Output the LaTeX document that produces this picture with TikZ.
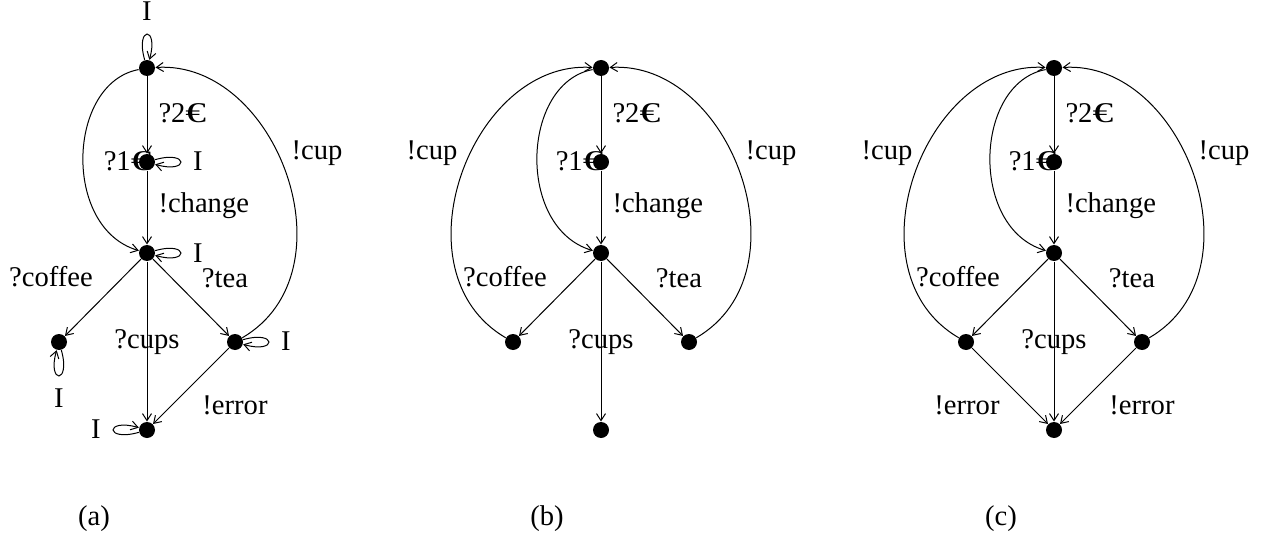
\documentclass[tikz,border=0pt]{standalone}
\usepackage{fontspec}
\setmainfont{Liberation Serif}
\usepackage{graphicx}
\usetikzlibrary{arrows.meta}

\newcommand{\eur}{\scalebox{1.45}[1]{€}}

\tikzset{
  st/.style={circle, fill=black, inner sep=0pt, minimum size=8pt},
  lbl/.style={inner sep=0pt, text height=0.75em, text depth=0.05em},
  tr/.style={-{Straight Barb[length=3.5pt,width=4.5pt]}},
}

\begin{document}
\begin{tikzpicture}[x=0.5pt, y=0.5pt, line width=0.5pt, font=\fontsize{14.3}{17}\selectfont]
    \useasboundingbox (0,0) rectangle (1269,-535);

    % (a)
    \begin{scope}[shift={(147,0)}]
    \node[st] (a0) at (0,-68) {};
    \node[st] (a1) at (0,-162) {};
    \node[st] (a2) at (0,-253) {};
    \node[st] (a3) at (-88,-342) {};
    \node[st] (a4) at (88,-342) {};
    \node[st] (a5) at (0,-430) {};
    \draw[tr] (a0) -- (a1);
    \draw[tr] (a1) -- (a2);
    \draw[tr] (a0) .. controls +(-80,-15) and +(-85,25) .. (a2);
    \draw[tr] (a2) -- (a3);
    \draw[tr] (a2) -- (a4);
    \draw[tr] (a2) -- (a5);
    \draw[tr] (a4) -- (a5);
    \draw[tr] (a4) .. controls +(120,70) and +(130,8) .. (a0);
    % self loops
    \draw[tr] (a0) .. controls +(106:44) and +(74:44) .. (a0);
    \draw[tr] (a1) .. controls +(16:44) and +(-16:44) .. (a1);
    \draw[tr] (a2) .. controls +(16:44) and +(-16:44) .. (a2);
    \draw[tr] (a3) .. controls +(-74:44) and +(-106:44) .. (a3);
    \draw[tr] (a4) .. controls +(16:44) and +(-16:44) .. (a4);
    \draw[tr] (a5) .. controls +(196:44) and +(164:44) .. (a5);
    \node[lbl] (la0) at (0,-14) {I};
    \node[lbl] (la1) at (51,-163) {I};
    \node[lbl] (la2) at (51,-255) {I};
    \node[lbl] (la3) at (-88,-400) {I};
    \node[lbl] (la4) at (139,-343) {I};
    \node[lbl] (la5) at (-51,-431) {I};
    \node[lbl, anchor=west] (ta1) at (11,-116) {?2\eur};
    \node[lbl, anchor=east] (ta2) at (5,-163) {?1\eur};
    \node[lbl, anchor=west] (ta3) at (11,-206) {!change};
    \node[lbl] (ta4) at (-96,-279) {?coffee};
    \node[lbl] (ta5) at (78,-280) {?tea};
    \node[lbl] (ta6) at (0,-341) {?cups};
    \node[lbl] (ta7) at (88,-407) {!error};
    \node[lbl] (ta8) at (170,-153) {!cup};
    \node[lbl] (capa) at (-53,-518) {(a)};
    \end{scope}

    % (b)
    \begin{scope}[shift={(601,0)}]
    \node[st] (b0) at (0,-68) {};
    \node[st] (b1) at (0,-162) {};
    \node[st] (b2) at (0,-253) {};
    \node[st] (b3) at (-88,-342) {};
    \node[st] (b4) at (88,-342) {};
    \node[st] (b5) at (0,-430) {};
    \draw[tr] (b0) -- (b1);
    \draw[tr] (b1) -- (b2);
    \draw[tr] (b0) .. controls +(-80,-15) and +(-85,25) .. (b2);
    \draw[tr] (b2) -- (b3);
    \draw[tr] (b2) -- (b4);
    \draw[tr] (b2) -- (b5);
    \draw[tr] (b3) .. controls +(-120,70) and +(-130,8) .. (b0);
    \draw[tr] (b4) .. controls +(120,70) and +(130,8) .. (b0);
    \node[lbl, anchor=west] (tb1) at (11,-116) {?2\eur};
    \node[lbl, anchor=east] (tb2) at (3,-163) {?1\eur};
    \node[lbl, anchor=west] (tb3) at (11,-206) {!change};
    \node[lbl] (tb4) at (-96,-279) {?coffee};
    \node[lbl] (tb5) at (78,-280) {?tea};
    \node[lbl] (tb6) at (0,-341) {?cups};
    \node[lbl] (tb7) at (-169,-153) {!cup};
    \node[lbl] (tb8) at (170,-153) {!cup};
    \node[lbl] (capb) at (-54,-518) {(b)};
    \end{scope}

    % (c)
    \begin{scope}[shift={(1054,0)}]
    \node[st] (c0) at (0,-68) {};
    \node[st] (c1) at (0,-162) {};
    \node[st] (c2) at (0,-253) {};
    \node[st] (c3) at (-88,-342) {};
    \node[st] (c4) at (88,-342) {};
    \node[st] (c5) at (0,-430) {};
    \draw[tr] (c0) -- (c1);
    \draw[tr] (c1) -- (c2);
    \draw[tr] (c0) .. controls +(-80,-15) and +(-85,25) .. (c2);
    \draw[tr] (c2) -- (c3);
    \draw[tr] (c2) -- (c4);
    \draw[tr] (c2) -- (c5);
    \draw[tr] (c3) -- (c5);
    \draw[tr] (c4) -- (c5);
    \draw[tr] (c3) .. controls +(-120,70) and +(-130,8) .. (c0);
    \draw[tr] (c4) .. controls +(120,70) and +(130,8) .. (c0);
    \node[lbl, anchor=west] (tc1) at (11,-116) {?2\eur};
    \node[lbl, anchor=east] (tc2) at (3,-163) {?1\eur};
    \node[lbl, anchor=west] (tc3) at (11,-206) {!change};
    \node[lbl] (tc4) at (-96,-279) {?coffee};
    \node[lbl] (tc5) at (78,-280) {?tea};
    \node[lbl] (tc6) at (0,-341) {?cups};
    \node[lbl] (tc7) at (-87,-407) {!error};
    \node[lbl] (tc8) at (88,-407) {!error};
    \node[lbl] (tc9) at (-167,-153) {!cup};
    \node[lbl] (tc10) at (170,-153) {!cup};
    \node[lbl] (capc) at (-53,-518) {(c)};
    \end{scope}
\end{tikzpicture}
\end{document}
